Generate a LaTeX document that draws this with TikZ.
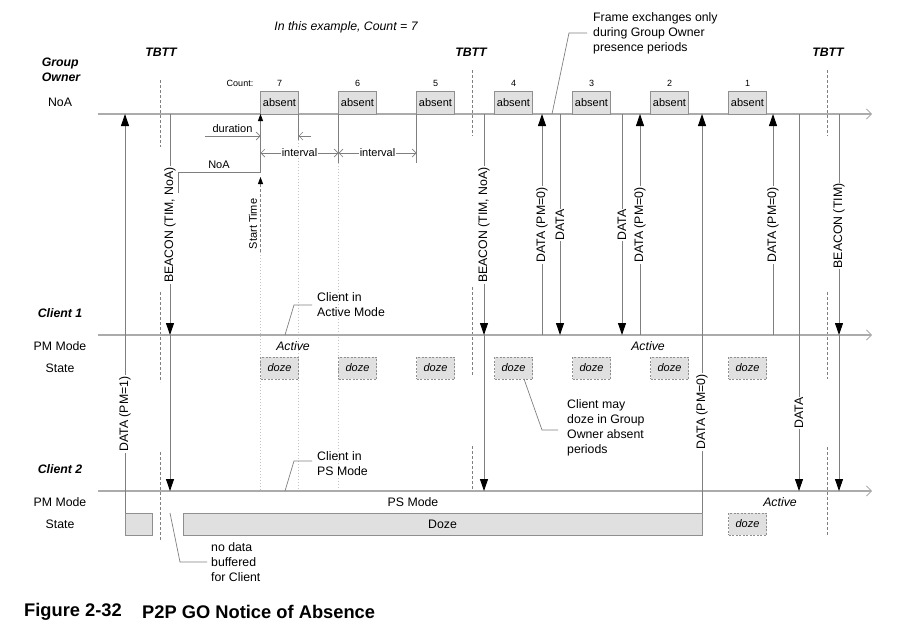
\documentclass[tikz,border=0pt]{standalone}
\usepackage{fontspec}
\setmainfont{Liberation Sans}
\usetikzlibrary{arrows.meta}
\definecolor{axisgray}{HTML}{ABABAB}
\definecolor{msggray}{HTML}{7F7F7F}
\definecolor{boxfill}{HTML}{E0E0E0}
\definecolor{boxline}{HTML}{8F8F8F}
\definecolor{dotgray}{HTML}{C4C4C4}
\newcommand\fsmain{\fontsize{12.3}{15}\selectfont}
\newcommand\fssmall{\fontsize{11}{13}\selectfont}
\newcommand\fstiny{\fontsize{9}{11}\selectfont}
\newcommand\fscap{\fontsize{18.3}{22}\selectfont}
\begin{document}
\begin{tikzpicture}[x=1pt,y=-1pt,
  every node/.style={font=\fsmain, inner sep=0pt},
  axisline/.style={draw=axisgray, line width=1.3pt, -{Straight Barb[length=5pt,width=10pt,line width=0.8pt]}},
  msg/.style={draw=msggray, line width=0.9pt, -{Triangle[length=12pt,width=8pt,color=black,fill=black]}},
  smallmsg/.style={draw=msggray, line width=0.8pt, -{Triangle[length=7pt,width=5pt,color=black,fill=black]}},
  thinline/.style={draw=msggray, line width=0.8pt},
  openarrow/.style={draw=msggray, line width=0.7pt, -{Straight Barb[length=4pt,width=8pt]}},
  dimarrow/.style={draw=msggray, line width=0.7pt, {Straight Barb[length=4pt,width=8pt]}-{Straight Barb[length=4pt,width=8pt]}},
  tbttline/.style={draw=msggray, line width=0.8pt, dash pattern=on 3pt off 2pt},
  guide/.style={draw=dotgray, line width=0.7pt, dash pattern=on 1pt off 2pt},
  absentbox/.style={draw=boxline, fill=boxfill, line width=0.8pt, minimum width=38pt, minimum height=23pt, font=\fssmall},
  dozebox/.style={draw=boxline, fill=boxfill, line width=0.8pt, dash pattern=on 2pt off 1.5pt, minimum width=38pt, minimum height=22pt, font=\fssmall\itshape},
  staterect/.style={draw=boxline, fill=boxfill, line width=0.8pt, minimum height=22pt},
  lbl/.style={fill=white, rotate=90, inner sep=1pt},
  heading/.style={font=\fsmain\bfseries\itshape},
  callout/.style={align=left, anchor=west},
  leader/.style={draw=msggray, line width=0.7pt}
]
\useasboundingbox (0,0) rectangle (909,635);

% ---------- axes
\coordinate (goL) at (98,114);  \coordinate (goR) at (872,114);
\coordinate (c1L) at (98,335);  \coordinate (c1R) at (872,335);
\coordinate (c2L) at (98,491);  \coordinate (c2R) at (872,491);

% ---------- guide lines (dotted)
\draw[guide] (260.5,252) -- (260.5,491);
\draw[guide] (298.5,140) -- (298.5,491);
\draw[guide] (338.5,163) -- (338.5,491);

% ---------- TBTT dashed lines
\draw[tbttline] (160,80) -- (160,147);
\draw[tbttline] (472,70) -- (472,136);
\draw[tbttline] (827,70) -- (827,136);
\draw[tbttline] (160,292) -- (160,382);
\draw[tbttline] (472,287) -- (472,376);
\draw[tbttline] (827,292) -- (827,379);
\draw[tbttline] (160,452) -- (160,540);
\draw[tbttline] (472,446) -- (472,491);
\draw[tbttline] (827,447) -- (827,536);

\draw[axisline] (goL) -- (goR);
\draw[axisline] (c1L) -- (c1R);
\draw[axisline] (c2L) -- (c2R);

% ---------- labels on the left
\node[heading, align=left] (goname) at (61,69.5) {Group\\Owner};
\node (noarow) at (60,102) {NoA};
\node[heading] (c1name) at (60,313) {Client 1};
\node (c1pm) at (60,346) {PM Mode};
\node (c1st) at (60,368) {State};
\node[heading] (c2name) at (60,469) {Client 2};
\node (c2pm) at (60,502) {PM Mode};
\node (c2st) at (60,524) {State};

\node[heading] (tbtt1) at (161,52) {TBTT};
\node[heading] (tbtt2) at (471,52) {TBTT};
\node[heading] (tbtt3) at (828,52) {TBTT};

\node[font=\fsmain\itshape] (example) at (346,27) {In this example, Count = 7};

% ---------- absent / doze boxes
\node[font=\fstiny] (countlbl) at (240,83) {Count:};
\foreach \i in {0,...,6} {
  \pgfmathtruncatemacro\cnt{7-\i}
  \node[absentbox] (abs\cnt) at ({279.5+78*\i},102.5) {absent};
  \node[font=\fstiny] (cnt\cnt) at ({279.5+78*\i},83) {\cnt};
  \node[dozebox] (dzA\cnt) at ({279.5+78*\i},368) {doze};
}
\node[dozebox] (dzB1) at (747.5,524) {doze};

% ---------- Client 2 state
\node[staterect, minimum width=27pt] (dzsmall) at (138.5,524) {};
\node[staterect, minimum width=519pt] (dzbig) at (442.5,524) {Doze};
\node (psmode) at (413,502) {PS Mode};
\node[font=\fsmain\itshape] (act1) at (293,346) {Active};
\node[font=\fsmain\itshape] (act2) at (648,346) {Active};
\node[font=\fsmain\itshape] (act3) at (780,502) {Active};

% ---------- short solid extension lines below absent boxes
\draw[thinline] (298.5,114) -- (298.5,140);
\draw[thinline] (338.5,114) -- (338.5,163);
\draw[thinline] (416.5,114) -- (416.5,163);

% ---------- duration / interval
\coordinate (durS) at (205,136); \coordinate (durE) at (260.5,136);
\draw[openarrow] (durS) -- (durE);
\node[font=\fssmall] (durlbl) at (232.5,129) {duration};
\coordinate (dur2S) at (311,136); \coordinate (dur2E) at (298.5,136);
\draw[openarrow] (dur2S) -- (dur2E);
\coordinate (iv0) at (260.5,153); \coordinate (iv1) at (338.5,153); \coordinate (iv2) at (416.5,153);
\draw[dimarrow] (iv0) -- node[fill=white, inner sep=1pt, font=\fssmall] (iv1lbl) {interval} (iv1);
\draw[dimarrow] (iv1) -- node[fill=white, inner sep=1pt, font=\fssmall] (iv2lbl) {interval} (iv2);

% ---------- NoA bracket and Start Time
\coordinate (noa0) at (178,193); \coordinate (noa1) at (178,172);
\coordinate (noa2) at (260.5,172); \coordinate (noa3) at (260.5,114);
\draw[smallmsg] (noa0) -- (noa1) -- (noa2) -- (noa3);
\node[font=\fssmall] (noalbl) at (219,165) {NoA};
\coordinate (stS) at (260.5,252); \coordinate (stE) at (260.5,177);
\draw[smallmsg, dash pattern=on 3pt off 2pt] (stS) -- (stE);
\node[font=\fssmall, rotate=90] (stlbl) at (253,224) {Start Time};

% ---------- messages
% DATA (PM=1)
\coordinate (m1s) at (125,513); \coordinate (m1e) at (125,114);
\draw[msg] (m1s) -- (m1e);
\node[lbl] (m1l) at (125,414) {DATA (PM=1)};
% BEACON 1
\coordinate (b1a) at (170,114); \coordinate (b1b) at (170,335); \coordinate (b1c) at (170,491);
\draw[msg] (b1a) -- (b1b);
\draw[msg] (b1b) -- (b1c);
\node[lbl] (b1l) at (170,225) {BEACON (TIM, NoA)};
% BEACON 2
\coordinate (b2a) at (484,114); \coordinate (b2b) at (484,335); \coordinate (b2c) at (484,491);
\draw[msg] (b2a) -- (b2b);
\draw[msg] (b2b) -- (b2c);
\node[lbl] (b2l) at (484,225) {BEACON (TIM, NoA)};
% Client 1 exchanges
\coordinate (m2s) at (542,335); \coordinate (m2e) at (542,114);
\draw[msg] (m2s) -- (m2e);
\node[lbl] (m2l) at (542,225) {DATA (PM=0)};
\coordinate (m3s) at (560,114); \coordinate (m3e) at (560,335);
\draw[msg] (m3s) -- (m3e);
\node[lbl] (m3l) at (560,225) {DATA};
\coordinate (m4s) at (622,114); \coordinate (m4e) at (622,335);
\draw[msg] (m4s) -- (m4e);
\node[lbl] (m4l) at (622,225) {DATA};
\coordinate (m5s) at (640,335); \coordinate (m5e) at (640,114);
\draw[msg] (m5s) -- (m5e);
\node[lbl] (m5l) at (640,225) {DATA (PM=0)};
% Client 2 DATA (PM=0)
\coordinate (m6s) at (702,513); \coordinate (m6e) at (702,114);
\draw[msg] (m6s) -- (m6e);
\node[lbl] (m6l) at (702,412) {DATA (PM=0)};
% Client 1 DATA (PM=0)
\coordinate (m7s) at (773,335); \coordinate (m7e) at (773,114);
\draw[msg] (m7s) -- (m7e);
\node[lbl] (m7l) at (773,225) {DATA (PM=0)};
% DATA to Client 2
\coordinate (m8s) at (799,114); \coordinate (m8e) at (799,491);
\draw[msg] (m8s) -- (m8e);
\node[lbl] (m8l) at (799,413) {DATA};
% BEACON (TIM)
\coordinate (b3a) at (839,114); \coordinate (b3b) at (839,335); \coordinate (b3c) at (839,491);
\draw[msg] (b3a) -- (b3b);
\draw[msg] (b3b) -- (b3c);
\node[lbl] (b3l) at (839,226) {BEACON (TIM)};

% ---------- callouts
\node[callout] (cframe) at (593,33) {Frame exchanges only\\during Group Owner\\presence periods};
\coordinate (lf0) at (552,114); \coordinate (lf1) at (569,33); \coordinate (lf2) at (587,33);
\draw[leader] (lf0) -- (lf1) -- (lf2);

\node[callout] (cact) at (317,304.5) {Client in\\Active Mode};
\coordinate (la0) at (285,335); \coordinate (la1) at (294,305); \coordinate (la2) at (312,305);
\draw[leader] (la0) -- (la1) -- (la2);

\node[callout] (cps) at (317,464) {Client in\\PS Mode};
\coordinate (lp0) at (285,491); \coordinate (lp1) at (294,461); \coordinate (lp2) at (312,461);
\draw[leader] (lp0) -- (lp1) -- (lp2);

\node[callout] (cdoze) at (567,428) {Client may\\doze in Group\\Owner absent\\periods};
\coordinate (ld0) at (524,379); \coordinate (ld1) at (542,430); \coordinate (ld2) at (558,430);
\draw[leader] (ld0) -- (ld1) -- (ld2);

\node[callout] (cnodata) at (211,562) {no data\\buffered\\for Client};
\coordinate (ln0) at (170,513); \coordinate (ln1) at (180,562); \coordinate (ln2) at (207,562);
\draw[leader] (ln0) -- (ln1) -- (ln2);

% ---------- caption
\node[font=\fscap\bfseries, anchor=west] (capnum) at (24,612) {Figure 2-32};
\node[font=\fscap\bfseries, anchor=west] (captxt) at (142,612) {P2P GO Notice of Absence};
\end{tikzpicture}
\end{document}
